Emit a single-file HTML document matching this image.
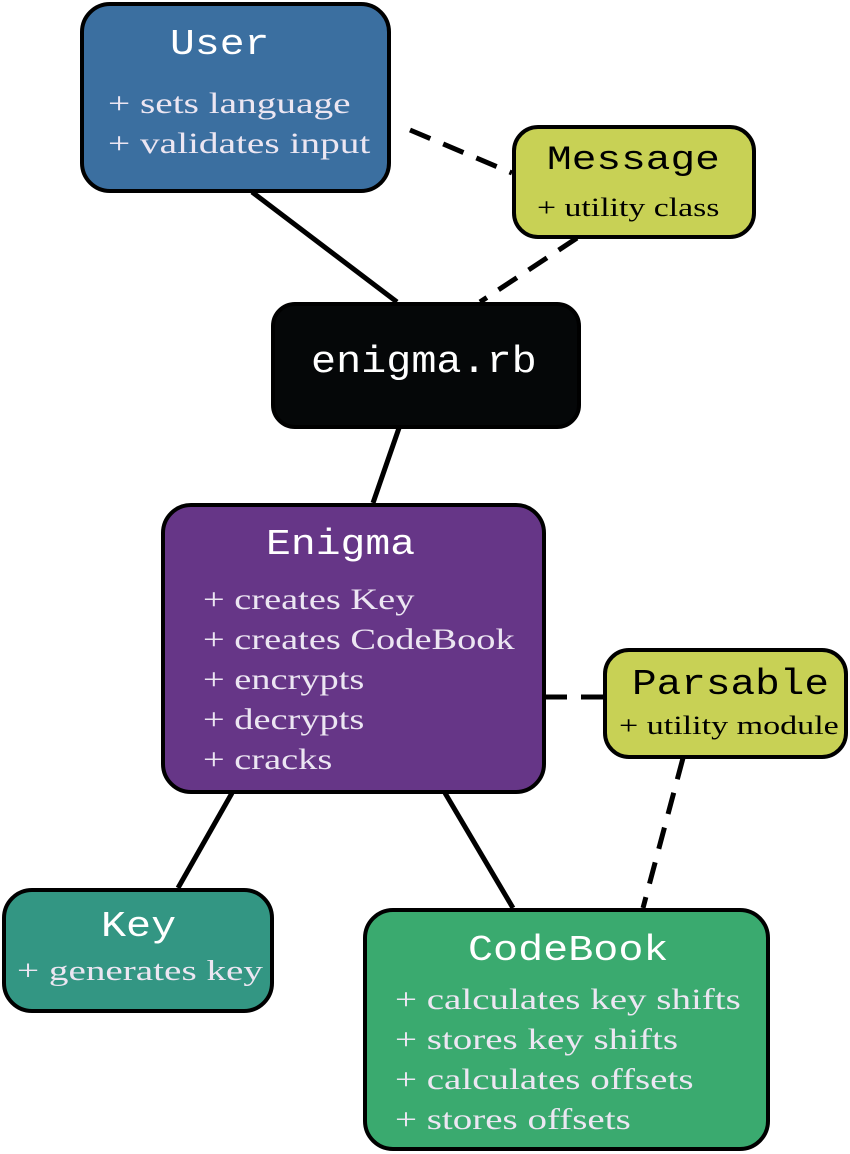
<!DOCTYPE html>
<html><head><meta charset="utf-8"><style>
body{margin:0;width:850px;height:1154px;background:#fff;position:relative;overflow:hidden}
svg{position:absolute;left:0;top:0}
.b{position:absolute;border:4px solid #000;box-sizing:border-box;border-radius:30px}
.t{position:absolute;font-family:"Liberation Mono",monospace;white-space:nowrap;transform-origin:0 0;transform:scaleX(1.15)}
.s{position:absolute;font-family:"Liberation Serif",serif;white-space:nowrap;line-height:40px;transform-origin:0 0;transform:scaleX(1.29)}
</style></head><body>
<svg width="850" height="1154">
<g stroke="#000" stroke-width="5" fill="none">
<line x1="252" y1="192" x2="397" y2="302"/>
<line x1="399" y1="428" x2="373" y2="503"/>
<line x1="232" y1="793" x2="178" y2="888"/>
<line x1="445" y1="793" x2="513" y2="908"/>
<g stroke-dasharray="22,14">
<line x1="410" y1="130" x2="512" y2="173"/>
<line x1="577" y1="238" x2="480" y2="302"/>
<line x1="545" y1="697" x2="603" y2="697"/>
<line x1="683" y1="758" x2="643" y2="908"/>
</g></g></svg>

<div class="b" style="left:80px;top:2px;width:311px;height:191px;background:#3b6fa0"></div>
<div class="t" style="left:170px;top:24px;font-size:36px;color:#fff">User</div>
<div class="s" style="left:108px;top:84px;font-size:30px;color:#ece6f2;transform:scaleX(1.31)">+ sets language<br>+ validates input</div>

<div class="b" style="left:512px;top:125px;width:244px;height:114px;background:#c8d155;border-radius:26px"></div>
<div class="t" style="left:547px;top:142px;font-size:34px;color:#000;transform:scaleX(1.21)">Message</div>
<div class="s" style="left:537px;top:188px;font-size:26px;color:#000;transform:scaleX(1.3)">+ utility class</div>

<div class="b" style="left:271px;top:302px;width:310px;height:127px;background:#050708;border-radius:24px"></div>
<div class="t" style="left:311px;top:341px;font-size:38px;color:#fff;transform:scaleX(1.1)">enigma.rb</div>

<div class="b" style="left:161px;top:503px;width:385px;height:291px;background:#663687"></div>
<div class="t" style="left:266px;top:524px;font-size:36px;color:#fff">Enigma</div>
<div class="s" style="left:203px;top:580px;font-size:30px;color:#ece6f2;transform:scaleX(1.28)">+ creates Key<br>+ creates CodeBook<br>+ encrypts<br>+ decrypts<br>+ cracks</div>

<div class="b" style="left:603px;top:648px;width:245px;height:111px;background:#c8d155;border-radius:26px"></div>
<div class="t" style="left:632px;top:664px;font-size:36px;color:#000;transform:scaleX(1.14)">Parsable</div>
<div class="s" style="left:619px;top:706px;font-size:26px;color:#000;transform:scaleX(1.31)">+ utility module</div>

<div class="b" style="left:2px;top:888px;width:272px;height:125px;background:#339683"></div>
<div class="t" style="left:101px;top:906px;font-size:36px;color:#fff;transform:scaleX(1.16)">Key</div>
<div class="s" style="left:17px;top:951px;font-size:29px;color:#ece6f2;transform:scaleX(1.35)">+ generates key</div>

<div class="b" style="left:363px;top:908px;width:407px;height:243px;background:#3aaa6f"></div>
<div class="t" style="left:468px;top:930px;font-size:36px;color:#fff;transform:scaleX(1.16)">CodeBook</div>
<div class="s" style="left:395px;top:980px;font-size:30px;color:#ece6f2;transform:scaleX(1.3)">+ calculates key shifts<br>+ stores key shifts<br>+ calculates offsets<br>+ stores offsets</div>
</body></html>
